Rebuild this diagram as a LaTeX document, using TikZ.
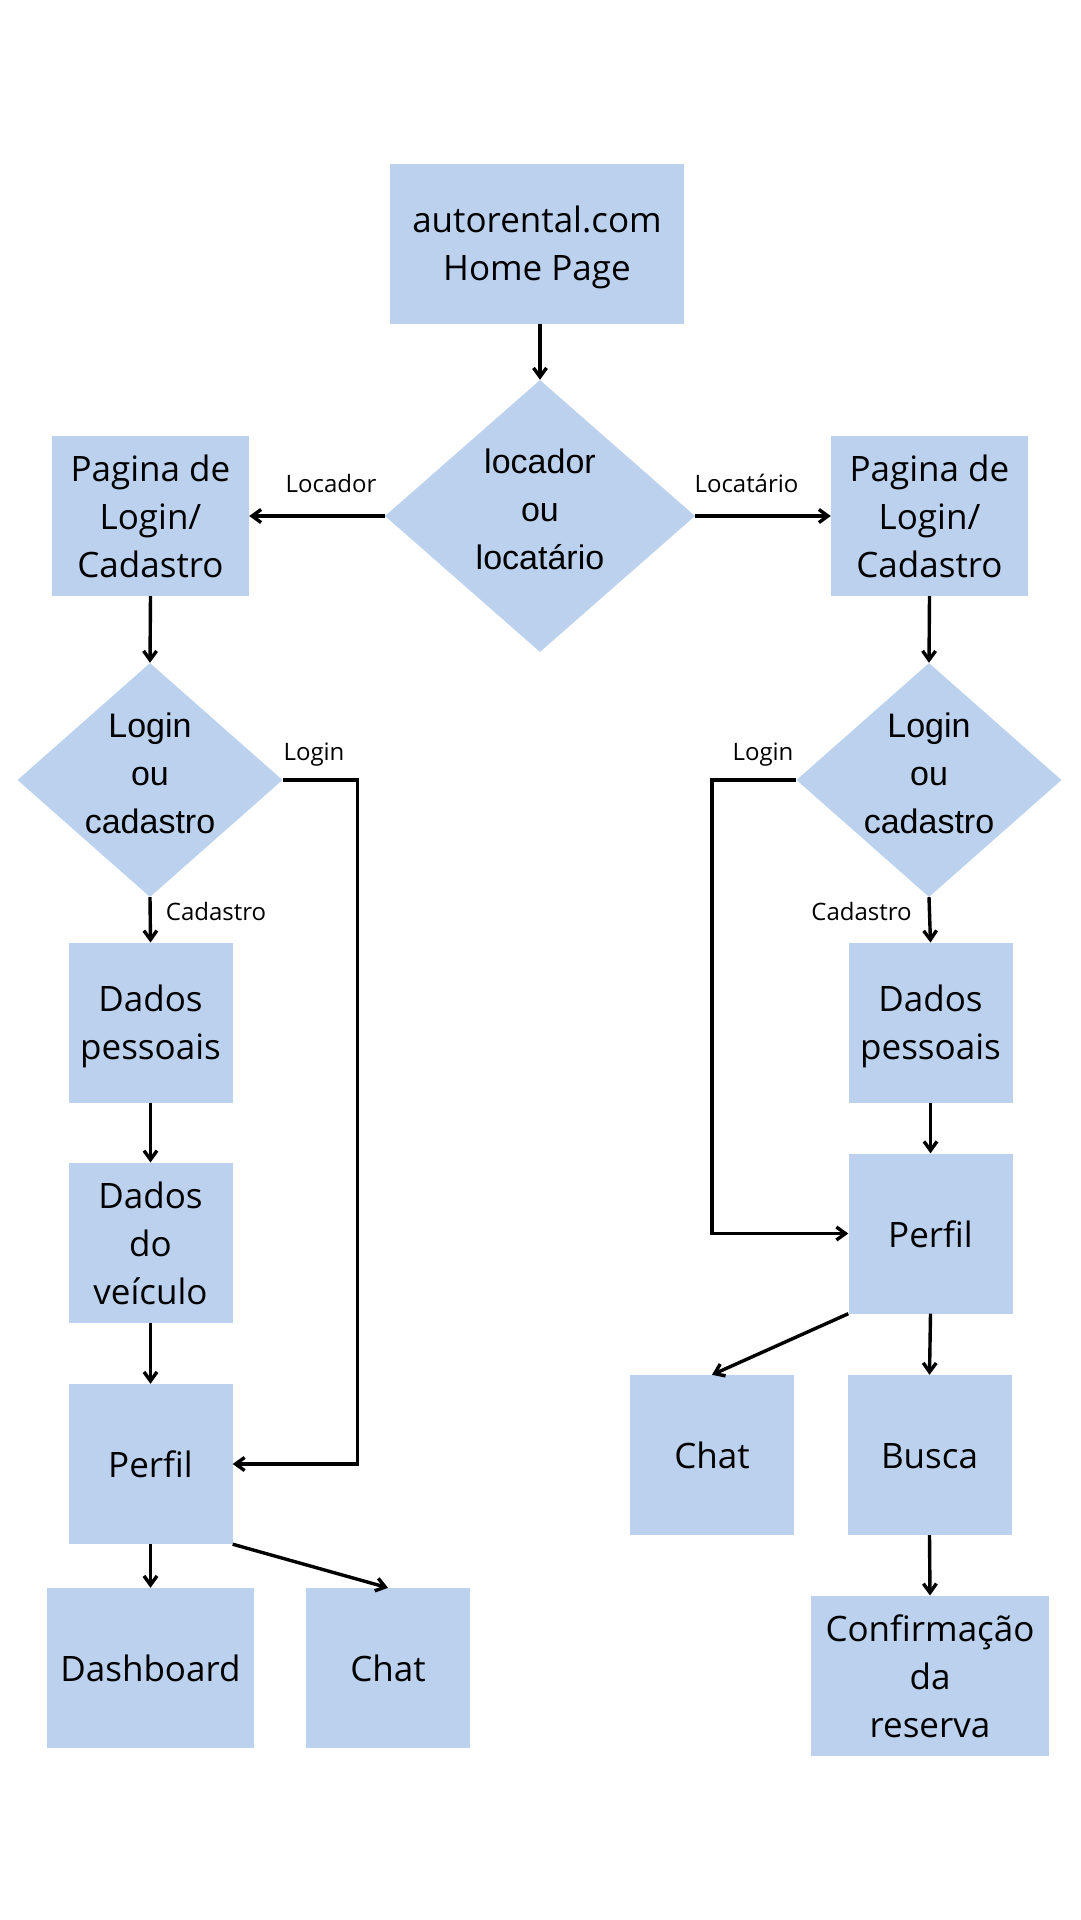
\documentclass[tikz,border=0pt]{standalone}
\usepackage{fontspec}
\setmainfont{Open Sans}
\newfontfamily\arialf{Liberation Sans}
\usetikzlibrary{arrows.meta,shapes.geometric}
\definecolor{boxblue}{RGB}{188,209,238}
\newcommand{\bstrut}{\rule[-7pt]{0pt}{41pt}}
\newcommand{\dstrut}{\rule[-13pt]{0pt}{35pt}}
\begin{document}
\begin{tikzpicture}[x=1pt,y=-1pt,
  box/.style={rectangle, fill=boxblue, inner sep=0pt, align=center,
    font=\fontsize{35}{48}\selectfont, minimum height=160pt},
  dia/.style={diamond, fill=boxblue, inner sep=0pt},
  dtext/.style={align=center, inner sep=0pt, font=\arialf\fontsize{34}{48}\selectfont},
  lbl/.style={font=\fontsize{24}{29}\selectfont, anchor=base, inner sep=0pt},
  arr/.style={line width=3.4pt, -{Straight Barb[length=9pt,width=13pt]}},
  plain/.style={line width=3.4pt}
]
\fill[white] (0,0) rectangle (1080,1920);
\useasboundingbox (0,0) rectangle (1080,1920);

% boxes
\node[box, minimum width=294pt] (home) at (537,244) {\bstrut autorental.com\\\bstrut Home Page};
\node[box, minimum width=197pt] (loginL) at (150.5,516) {\bstrut Pagina de\\\bstrut Login/\\\bstrut Cadastro};
\node[box, minimum width=197pt] (loginR) at (929.5,516) {\bstrut Pagina de\\\bstrut Login/\\\bstrut Cadastro};
\node[box, minimum width=164pt] (dadosL) at (150.5,1022.7) {\bstrut Dados\\\bstrut pessoais};
\node[box, minimum width=164pt] (veicL) at (150.5,1242.7) {\bstrut Dados\\\bstrut do\\\bstrut veículo};
\node[box, minimum width=164pt] (perfilL) at (150.5,1464) {\bstrut Perfil};
\node[box, minimum width=207pt] (dash) at (150.5,1668) {\bstrut Dashboard};
\node[box, minimum width=164pt] (chatL) at (388,1668) {\bstrut Chat};
\node[box, minimum width=164pt] (dadosR) at (930.5,1022.7) {\bstrut Dados\\\bstrut pessoais};
\node[box, minimum width=164pt] (perfilR) at (930.5,1233.5) {\bstrut Perfil};
\node[box, minimum width=164pt] (chatR) at (712,1455) {\bstrut Chat};
\node[box, minimum width=164pt] (busca) at (929.5,1455) {\bstrut Busca};
\node[box, minimum width=238pt] (conf) at (930,1675.7) {\bstrut Confirmação\\\bstrut da\\\bstrut reserva};

% diamonds
\node[dia, minimum width=310pt, minimum height=272pt] (d1) at (540,516) {};
\node[dtext] (d1t) at (d1.center) {\dstrut locador\\\dstrut ou\\\dstrut locatário};
\node[dia, minimum width=265pt, minimum height=234pt] (dL) at (150,780) {};
\node[dtext] (dLt) at (dL.center) {\dstrut Login\\\dstrut ou\\\dstrut cadastro};
\node[dia, minimum width=265pt, minimum height=234pt] (dR) at (929,780) {};
\node[dtext] (dRt) at (dR.center) {\dstrut Login\\\dstrut ou\\\dstrut cadastro};

% labels
\node[lbl] (lLocador) at (331,492) {Locador};
\node[lbl] (lLocatario) at (746.5,492) {Locatário};
\node[lbl] (lLoginL) at (314,760.5) {Login};
\node[lbl] (lLoginR) at (763,760.5) {Login};
\node[lbl] (lCadL) at (216,920) {Cadastro};
\node[lbl] (lCadR) at (861.5,920) {Cadastro};

% junction points
\coordinate (jL) at (357.5,780);
\coordinate (jR) at (712,780);

% connectors
\draw[arr] (d1.north |- home.south) -- (d1.north);
\draw[arr] (d1.west) -- (loginL.east);
\draw[arr] (d1.east) -- (loginR.west);
\draw[arr] (loginL.south) -- (dL.north);
\draw[arr] (loginR.south) -- (dR.north);
\draw[arr] (dL.east) -- (jL) |- (perfilL.east);
\draw[arr] (dR.west) -- (jR) |- (perfilR.west);
\draw[arr] (dL.south) -- (dadosL.north);
\draw[arr] (dR.south) -- (dadosR.north);
\draw[arr] (dadosL.south) -- (veicL.north);
\draw[arr] (veicL.south) -- (perfilL.north);
\draw[arr] (perfilL.south) -- (dash.north);
\draw[arr] (perfilL.south east) -- (chatL.north);
\draw[arr] (dadosR.south) -- (perfilR.north);
\draw[arr] (perfilR.south west) -- (chatR.north);
\draw[arr] (perfilR.south) -- (busca.north);
\draw[arr] (busca.south) -- (conf.north);
\end{tikzpicture}
\end{document}
